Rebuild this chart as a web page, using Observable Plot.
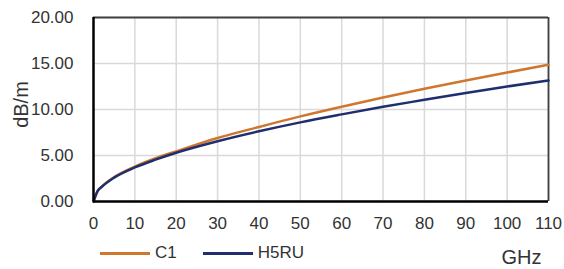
<!DOCTYPE html>
<html>
<head>
<meta charset="utf-8">
<script src="https://cdn.jsdelivr.net/npm/d3@7"></script>
<script src="https://cdn.jsdelivr.net/npm/@observablehq/plot@0.6"></script>
<style>
  body { margin: 0; background: #fff; }
  #wrap { position: relative; width: 564px; height: 269px; font-family: "Liberation Sans", Arial, sans-serif; }
  .legend { position: absolute; top: 243px; left: 100px; display: flex; align-items: center; font-size: 17px; color: #333; }
  .item { display: flex; align-items: center; margin-right: 26px; }
  .swatch { width: 50px; height: 3px; margin-right: 5px; }
</style>
</head>
<body>
<div id="wrap"></div>
<script>
const freq  = [0, 1, 2, 5, 10, 15, 20, 30, 40, 50, 60, 70, 80, 90, 100, 110];
const c1    = [0, 1.1, 1.6, 2.65, 3.8, 4.7, 5.45, 6.9, 8.1, 9.25, 10.3, 11.3, 12.25, 13.15, 14.02, 14.86];
const h5ru  = [0, 1.15, 1.6, 2.6, 3.7, 4.55, 5.3, 6.55, 7.63, 8.6, 9.47, 10.3, 11.05, 11.8, 12.5, 13.15];
const seriesNames = ["C1", "H5RU"];
const seriesColors = ["#d0772f", "#1e2e6e"];
const xTicks = [0, 10, 20, 30, 40, 50, 60, 70, 80, 90, 100, 110];
const yTicks = [0, 5, 10, 15, 20];
const xLabel = "GHz";
const yLabel = "dB/m";

const rows = freq.flatMap((f, i) => [
  {f, v: c1[i], s: seriesNames[0]},
  {f, v: h5ru[i], s: seriesNames[1]}
]);

const chart = Plot.plot({
  width: 564,
  height: 269,
  marginLeft: 93,
  marginRight: 16,
  marginTop: 17,
  marginBottom: 68,
  x: {domain: [0, 110]},
  y: {domain: [0, 20]},
  color: {domain: seriesNames, range: seriesColors},
  style: {fontFamily: "'Liberation Sans', Arial, sans-serif", fontSize: "17px", color: "#333", background: "#fff"},
  marks: [
    Plot.gridX(xTicks, {stroke: "#d9d9d9", strokeOpacity: 1, strokeWidth: 1.5}),
    Plot.gridY(yTicks, {stroke: "#d9d9d9", strokeOpacity: 1, strokeWidth: 1.5}),
    Plot.ruleX([110], {stroke: "#404040", strokeWidth: 1.8}),
    Plot.ruleY([20], {stroke: "#404040", strokeWidth: 1.8}),
    Plot.line(rows, {x: "f", y: "v", z: "s", stroke: "s", strokeWidth: 2.5, curve: "monotone-x"}),
    Plot.ruleX([0], {stroke: "#000", strokeWidth: 2.5}),
    Plot.ruleY([0], {stroke: "#000", strokeWidth: 2.5}),
    Plot.axisX(xTicks, {tickSize: 0, tickPadding: 15, fontSize: 17, label: null}),
    Plot.axisY(yTicks, {tickSize: 0, tickPadding: 20, fontSize: 17, tickFormat: d3.format(".2f"), label: null}),
    Plot.text([xLabel], {frameAnchor: "bottom-right", textAnchor: "end", lineAnchor: "middle", dx: -7, dy: 56, fontSize: 20, fill: "#333"}),
    Plot.text([yLabel], {frameAnchor: "left", textAnchor: "middle", lineAnchor: "middle", rotate: -90, dx: -72, dy: -5, fontSize: 20, fill: "#333"})
  ]
});
const wrap = document.getElementById("wrap");
wrap.appendChild(chart);

const legend = document.createElement("div");
legend.className = "legend";
seriesNames.forEach((name, i) => {
  const item = document.createElement("div");
  item.className = "item";
  const sw = document.createElement("div");
  sw.className = "swatch";
  sw.style.background = seriesColors[i];
  const t = document.createElement("span");
  t.textContent = name;
  item.appendChild(sw);
  item.appendChild(t);
  legend.appendChild(item);
});
wrap.appendChild(legend);
</script>
</body>
</html>
